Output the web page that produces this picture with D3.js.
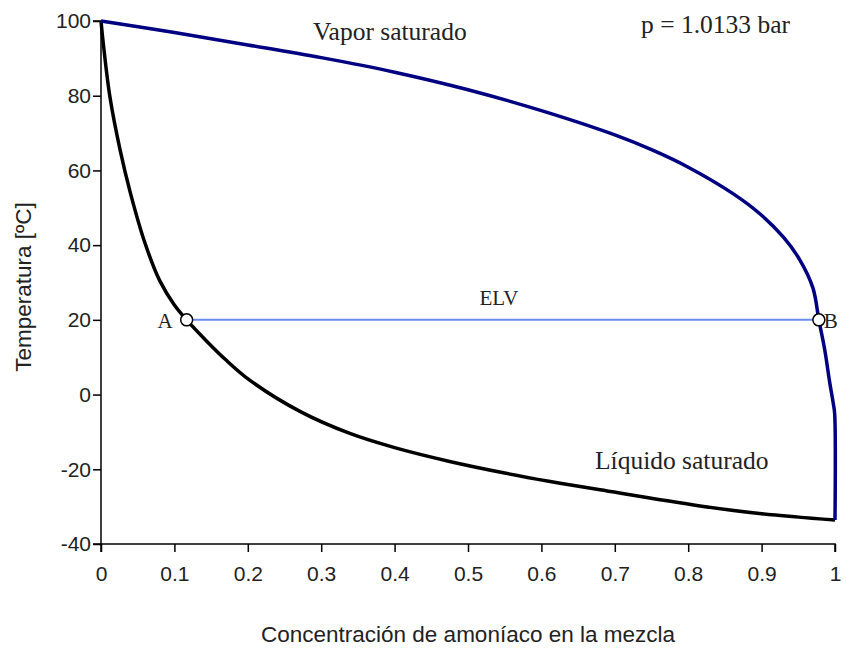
<!DOCTYPE html>
<html>
<head>
<meta charset="utf-8">
<script src="https://cdn.jsdelivr.net/npm/d3@7"></script>
<style>
  body { margin: 0; background: #fff; }
  .axis text { font-family: "Liberation Sans", Arial, sans-serif; font-size: 21px; fill: #222; }
  .axis path, .axis line { stroke: #000; stroke-width: 1.5px; }
  .serif { font-family: "Liberation Serif", "Times New Roman", serif; font-size: 25.5px; fill: #222; }
  .title { font-family: "Liberation Sans", Arial, sans-serif; font-size: 22.5px; fill: #222; }
</style>
</head>
<body>
<svg id="chart"></svg>
<script>
// vapor saturado (x, T)
const vaporX = [0, 0.1, 0.2, 0.3, 0.4, 0.5, 0.6, 0.7, 0.75, 0.8, 0.861, 0.898, 0.93, 0.952, 0.97, 0.978, 0.986, 0.993, 0.9976, 0.9995, 1.0];
const vaporT = [100, 96.9, 93.6, 90.2, 86.3, 81.6, 76.0, 69.5, 65.55, 60.87, 53.8, 48.34, 42.05, 36.08, 28.5, 20, 12, 3, -2.3, -5, -33.6];

// liquido saturado (x, T)
const liquidX = [0, 0.0031, 0.0123, 0.026, 0.04, 0.06, 0.08, 0.1, 0.1167, 0.144, 0.17, 0.203, 0.271, 0.339, 0.4, 0.475, 0.55, 0.61, 0.68, 0.816, 0.9, 1.0];
const liquidT = [100, 94, 79.5, 65.5, 54, 40.5, 30.5, 24, 20, 14.3, 9.3, 3.8, -4.5, -10.4, -14.2, -17.9, -21, -23.2, -25.5, -29.8, -31.9, -33.6];

// puntos del equilibrio liquido-vapor
const pointNames = ['A', 'B'];
const pointX = [0.1167, 0.978];
const pointT = [20, 20];

const xTicks = [0, 0.1, 0.2, 0.3, 0.4, 0.5, 0.6, 0.7, 0.8, 0.9, 1];
const yTicks = [-40, -20, 0, 20, 40, 60, 80, 100];

const W = 846, H = 650;
const margin = {top: 21, right: 11, bottom: 106, left: 101};
const width = W - margin.left - margin.right;
const height = H - margin.top - margin.bottom;

const svg = d3.select('#chart').attr('width', W).attr('height', H);
const g = svg.append('g').attr('transform', `translate(${margin.left},${margin.top})`);

const x = d3.scaleLinear().domain([0, 1]).range([0, width]);
const y = d3.scaleLinear().domain([-40, 100]).range([height, 0]);

const xAxis = d3.axisBottom(x).tickValues(xTicks).tickFormat(d => String(d)).tickSize(8).tickPadding(14);
const yAxis = d3.axisLeft(y).tickValues(yTicks).tickFormat(d => String(d)).tickSize(8).tickPadding(2);

g.append('g').attr('class', 'axis').attr('transform', `translate(0,${height})`).call(xAxis)
  .call(s => s.select('.domain').attr('d', `M0,8V0H${width}V8`));
g.append('g').attr('class', 'axis').call(yAxis)
  .call(s => s.select('.domain').attr('d', `M-8,0H0V${height}H-8`));

const vapor = vaporX.map((v, i) => ({x: v, t: vaporT[i]}));
const liquid = liquidX.map((v, i) => ({x: v, t: liquidT[i]}));

const line = d3.line().x(d => x(d.x)).y(d => y(d.t)).curve(d3.curveCatmullRom.alpha(0.5));

// linea ELV entre A y B
g.append('line')
  .attr('x1', x(pointX[0])).attr('y1', y(pointT[0]))
  .attr('x2', x(pointX[1])).attr('y2', y(pointT[1]))
  .attr('stroke', '#6a8cf0').attr('stroke-width', 2);

g.append('path').attr('d', line(liquid))
  .attr('fill', 'none').attr('stroke', '#000').attr('stroke-width', 3.5);

g.append('path').attr('d', line(vapor))
  .attr('fill', 'none').attr('stroke', '#000080').attr('stroke-width', 3.5);

g.selectAll('.pt').data(pointNames).enter().append('circle')
  .attr('class', 'pt')
  .attr('cx', (d, i) => x(pointX[i]))
  .attr('cy', (d, i) => y(pointT[i]))
  .attr('r', 6)
  .attr('fill', '#fff').attr('stroke', '#000').attr('stroke-width', 1.5);

g.selectAll('.ptlabel').data(pointNames).enter().append('text')
  .attr('class', 'serif')
  .attr('x', (d, i) => x(pointX[i]) + (i === 0 ? -14 : 5))
  .attr('y', (d, i) => y(pointT[i]) + 8)
  .attr('text-anchor', (d, i) => i === 0 ? 'end' : 'start')
  .style('font-size', '21px')
  .text(d => d);

// etiquetas
svg.append('text').attr('class', 'serif').attr('x', 313).attr('y', 40).text('Vapor saturado');
svg.append('text').attr('class', 'serif').attr('x', 641).attr('y', 33).text('p = 1.0133 bar');
svg.append('text').attr('class', 'serif').attr('x', 595).attr('y', 469).text('Líquido saturado');
svg.append('text').attr('class', 'serif').attr('x', 499).attr('y', 305)
  .attr('text-anchor', 'middle').style('font-size', '21px').text('ELV');

svg.append('text').attr('class', 'title')
  .attr('x', margin.left + width / 2).attr('y', 642)
  .attr('text-anchor', 'middle')
  .text('Concentración de amoníaco en la mezcla');

svg.append('text').attr('class', 'title')
  .attr('transform', `translate(31,287) rotate(-90)`)
  .attr('text-anchor', 'middle')
  .text('Temperatura [ºC]');
</script>
</body>
</html>
